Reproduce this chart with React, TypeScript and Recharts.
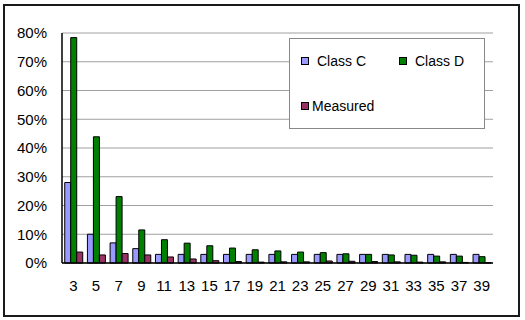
import { BarChart, Bar, XAxis, YAxis, CartesianGrid } from "recharts"

const orders = ["3", "5", "7", "9", "11", "13", "15", "17", "19", "21", "23", "25", "27", "29", "31", "33", "35", "37", "39"]
const classC = [28, 10, 7, 5, 3, 3, 3, 3, 3, 3, 3, 3, 3, 3, 3, 3, 3, 3, 3]
const classD = [78.4, 43.9, 23.1, 11.5, 8.1, 6.9, 6.0, 5.2, 4.6, 4.2, 3.8, 3.6, 3.2, 3.0, 2.8, 2.7, 2.4, 2.4, 2.2]
const measured = [3.8, 2.8, 3.3, 2.8, 2.1, 1.4, 0.8, 0.5, 0.3, 0.4, 0.4, 0.7, 0.6, 0.5, 0.4, 0.3, 0.4, 0.2, 0.1]
const yTicks = [0, 10, 20, 30, 40, 50, 60, 70, 80]

const data = orders.map((o, i) => ({
  order: o,
  classC: classC[i],
  classD: classD[i],
  measured: measured[i],
}))

const font = "'Liberation Sans', Arial, sans-serif"

function LegendBox() {
  const item = (x: number, y: number, color: string, label: string, gap = 8) => (
    <div
      style={{
        position: "absolute",
        left: x,
        top: y,
        display: "flex",
        alignItems: "center",
        fontSize: 14,
        lineHeight: "16px",
        whiteSpace: "nowrap",
      }}
    >
      <span
        style={{
          display: "inline-block",
          width: 6,
          height: 6,
          background: color,
          border: "1px solid #000",
          marginRight: gap,
        }}
      />
      {label}
    </div>
  )
  return (
    <div
      style={{
        position: "absolute",
        left: 289,
        top: 38,
        width: 194,
        height: 89,
        background: "#fff",
        border: "1px solid #888",
        fontFamily: font,
        color: "#000",
      }}
    >
      {item(11, 14, "#9999FF", "Class C")}
      {item(109, 14, "#008000", "Class D")}
      {item(11, 59, "#993366", "Measured", 3)}
    </div>
  )
}

export default function App() {
  return (
    <div style={{ position: "absolute", left: 0, top: 0, width: 525, height: 320, background: "#fff" }}>
      <div
        style={{
          position: "absolute",
          left: 3,
          top: 4,
          width: 513,
          height: 309,
          border: "2px solid #1a1a1a",
        }}
      />
      <div style={{ position: "absolute", left: 0, top: 0 }}>
        <BarChart
          width={525}
          height={320}
          data={data}
          margin={{ top: 33, right: 32, left: 7, bottom: 27 }}
          barCategoryGap="12%"
          barGap={0}
        >
          <CartesianGrid vertical={false} stroke="#a0a0a0" />
          <XAxis
            dataKey="order"
            axisLine={{ stroke: "#000", strokeWidth: 1.5 }}
            tickLine={false}
            tickSize={0}
            tickMargin={17}
            height={30}
            interval={0}
            tick={{ fontSize: 15, fill: "#000", fontFamily: font }}
          />
          <YAxis
            domain={[0, 80]}
            ticks={yTicks}
            interval={0}
            tickFormatter={(v: number) => `${v}%`}
            axisLine={{ stroke: "#000", strokeWidth: 1.5 }}
            tickLine={false}
            tickSize={0}
            tickMargin={15}
            width={55}
            tick={{ fontSize: 15, fill: "#000", fontFamily: font }}
          />
          <YAxis
            yAxisId="right"
            orientation="right"
            domain={[0, 1]}
            width={0}
            tick={false}
            tickLine={false}
            axisLine={{ stroke: "#a0a0a0" }}
          />
          <Bar dataKey="classC" name="Class C" fill="#9999FF" stroke="#000" strokeWidth={1} isAnimationActive={false} />
          <Bar dataKey="classD" name="Class D" fill="#008000" stroke="#000" strokeWidth={1} isAnimationActive={false} />
          <Bar dataKey="measured" name="Measured" fill="#993366" stroke="#000" strokeWidth={1} isAnimationActive={false} />
        </BarChart>
      </div>
      <LegendBox />
    </div>
  )
}
